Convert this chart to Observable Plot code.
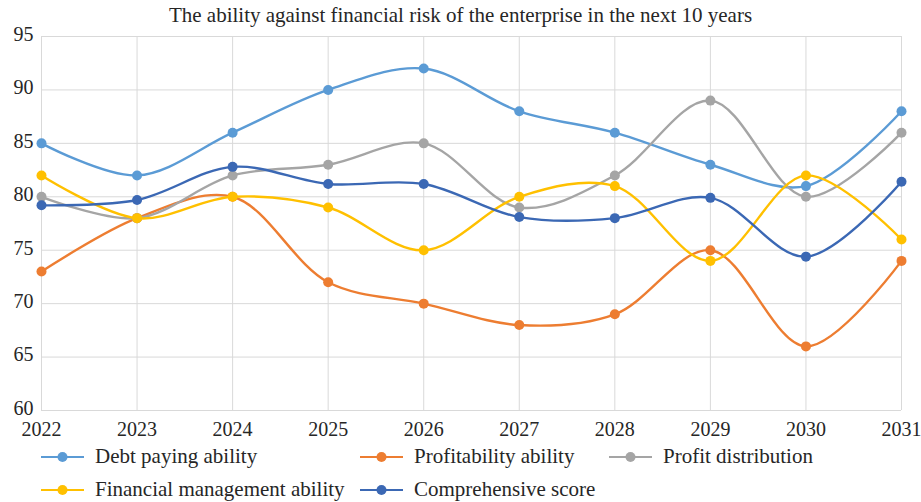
<!DOCTYPE html>
<html>
<head>
<meta charset="utf-8">
<script src="https://cdn.jsdelivr.net/npm/d3@7"></script>
<script src="https://cdn.jsdelivr.net/npm/@observablehq/plot@0.6"></script>
<style>
  html, body { margin: 0; padding: 0; background: #fff; }
  body { width: 921px; height: 502px; overflow: hidden; font-family: "Liberation Serif", "DejaVu Serif", serif; color: #262626; }
  #title { height: 28px; line-height: 30px; font-size: 21px; text-align: center; white-space: nowrap; }
  #chart svg { display: block; }
  #legend { position: relative; height: 62px; font-size: 21px; }
  .item { position: absolute; display: flex; align-items: center; height: 33px; white-space: nowrap; }
  .item svg { margin-right: 11px; }
</style>
</head>
<body>
<div id="title">The ability against financial risk of the enterprise in the next 10 years</div>
<div id="chart"></div>
<div id="legend"></div>
<script>
const years = [2022, 2023, 2024, 2025, 2026, 2027, 2028, 2029, 2030, 2031];
const debtPaying = [85, 82, 86, 90, 92, 88, 86, 83, 81, 88];
const profitability = [73, 78, 80, 72, 70, 68, 69, 75, 66, 74];
const profitDistribution = [80, 78, 82, 83, 85, 79, 82, 89, 80, 86];
const financialManagement = [82, 78, 80, 79, 75, 80, 81, 74, 82, 76];
const comprehensive = [79.2, 79.7, 82.8, 81.2, 81.2, 78.1, 78.0, 79.9, 74.4, 81.4];
const seriesNames = ["Debt paying ability", "Profitability ability", "Profit distribution", "Financial management ability", "Comprehensive score"];
const seriesColors = ["#5B9BD5", "#ED7D31", "#A5A5A5", "#FFC000", "#3B68B4"];
const yTicks = [60, 65, 70, 75, 80, 85, 90, 95];

const seriesValues = [debtPaying, profitability, profitDistribution, financialManagement, comprehensive];
const rows = [];
seriesNames.forEach((name, i) => {
  years.forEach((yr, j) => rows.push({series: name, year: yr, value: seriesValues[i][j]}));
});

const marks = [
  Plot.gridX(years, {stroke: "#d9d9d9", strokeOpacity: 1, strokeWidth: 1}),
  Plot.gridY(yTicks, {stroke: "#d9d9d9", strokeOpacity: 1, strokeWidth: 1}),
  Plot.axisX(years, {tickSize: 0, tickPadding: 11, fontSize: 20, tickFormat: d => String(d), fill: "#262626"}),
  Plot.axisY(yTicks, {tickSize: 0, tickPadding: 8, fontSize: 20, fill: "#262626", dy: -2})
];
seriesNames.forEach(name => {
  const d = rows.filter(r => r.series === name);
  marks.push(Plot.line(d, {x: "year", y: "value", stroke: "series", strokeWidth: 2.4, curve: "catmull-rom"}));
  marks.push(Plot.dot(d, {x: "year", y: "value", fill: "series", r: 5, stroke: "none"}));
});

const chart = Plot.plot({
  width: 921,
  height: 412,
  marginTop: 8,
  marginBottom: 30,
  marginLeft: 41,
  marginRight: 20,
  style: {fontFamily: "'Liberation Serif', 'DejaVu Serif', serif", fontSize: "20px", color: "#262626", background: "#fff", overflow: "visible"},
  x: {domain: [2022, 2031], label: null},
  y: {domain: [60, 95], label: null},
  color: {domain: seriesNames, range: seriesColors},
  marks
});
document.getElementById("chart").appendChild(chart);

// legend
const legendPos = [
  {left: 41, top: 0}, {left: 360, top: 0}, {left: 609, top: 0},
  {left: 41, top: 33}, {left: 360, top: 33}
];
const legend = document.getElementById("legend");
seriesNames.forEach((name, i) => {
  const item = document.createElement("div");
  item.className = "item";
  item.style.left = legendPos[i].left + "px";
  item.style.top = legendPos[i].top + "px";
  item.innerHTML = `<svg width="43" height="12"><line x1="0" y1="6" x2="43" y2="6" stroke="${seriesColors[i]}" stroke-width="2"/><circle cx="21.5" cy="6" r="5" fill="${seriesColors[i]}"/></svg><span>${name}</span>`;
  legend.appendChild(item);
});
</script>
</body>
</html>
